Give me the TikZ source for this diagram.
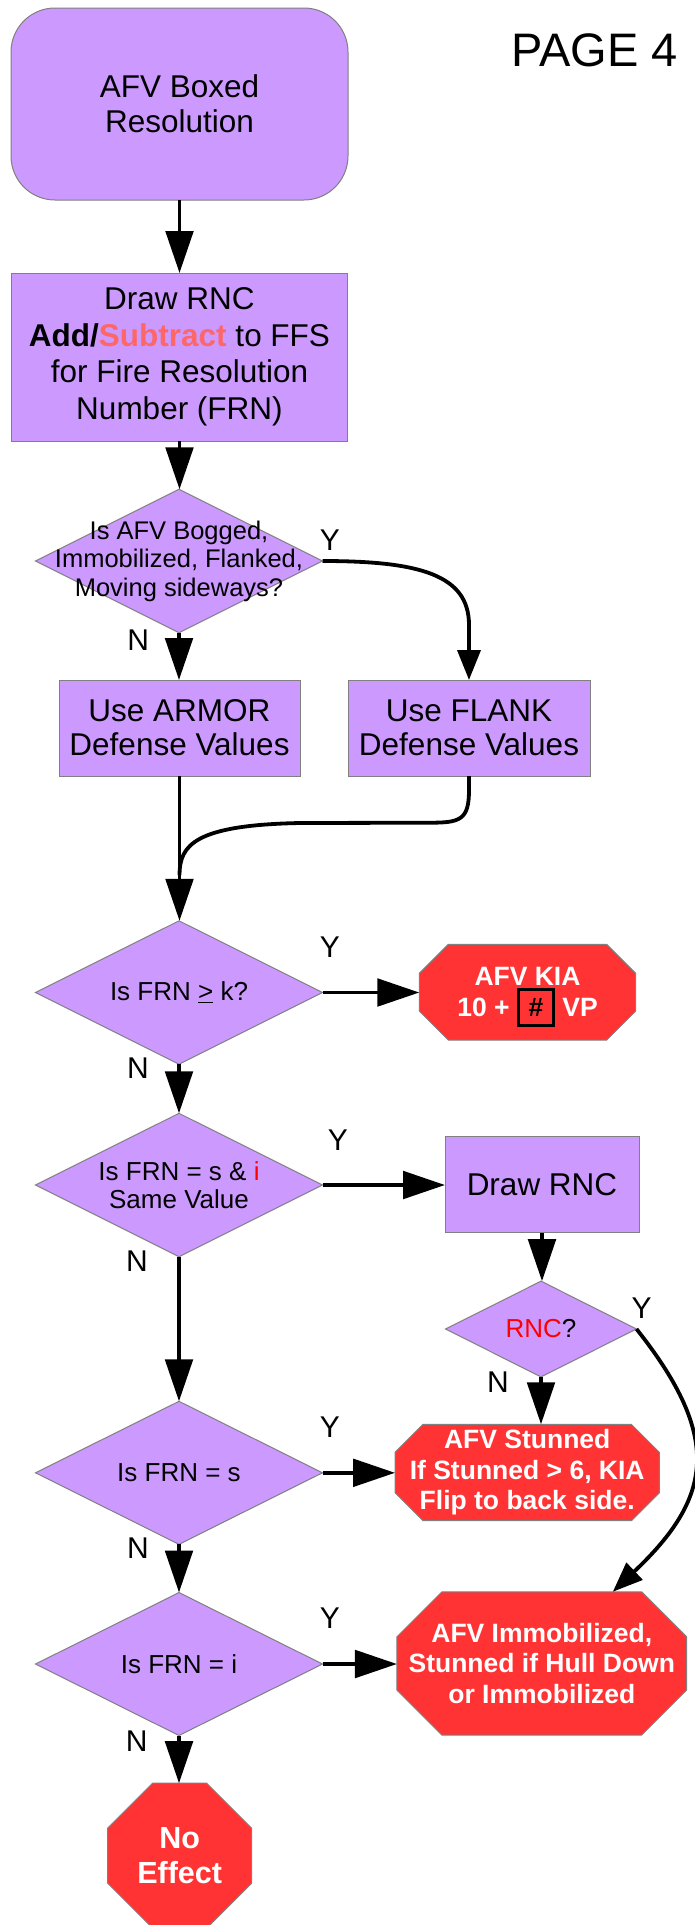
\documentclass[tikz,border=0pt]{standalone}
\usepackage{fontspec}
\setmainfont{Liberation Sans}
\usetikzlibrary{shapes.geometric,arrows.meta,backgrounds}

\definecolor{boxpurple}{RGB}{204,153,255}
\definecolor{stopred}{RGB}{255,51,51}
\definecolor{edgegray}{RGB}{128,128,128}
\definecolor{minusred}{RGB}{255,102,102}
\definecolor{keyred}{RGB}{255,0,0}

\begin{document}
\begin{tikzpicture}[x=1pt,y=-1pt,
  flow/.style={line width=3.8pt,-{Triangle[length=42pt,width=27.5pt]}},
  bendflow/.style={line width=3.8pt,-{Triangle[length=30pt,width=23pt]}},
  plainline/.style={line width=3.8pt},
  procbox/.style={rectangle,draw=edgegray,line width=1pt,fill=boxpurple,
    inner sep=0pt,outer sep=0pt,align=center,font=\fontsize{31.5}{34}\selectfont},
  decide/.style={diamond,draw=edgegray,line width=1pt,fill=boxpurple,
    inner sep=0pt,outer sep=0pt},
  asktext/.style={align=center,inner sep=0pt,font=\fontsize{26}{28.5}\selectfont},
  outcome/.style={rectangle,inner sep=0pt,outer sep=0pt,align=center,text=white,
    font=\bfseries\fontsize{26.5}{30.5}\selectfont},
  yn/.style={inner sep=0pt,font=\fontsize{30}{30}\selectfont}]

\useasboundingbox (0,0) rectangle (694,1925);

% ---- title
\node[inner sep=0pt,font=\fontsize{47}{47}\selectfont] (page) at (594.5,50.8) {PAGE 4};

% ---- left column
\node[procbox,rounded corners=44pt,minimum width=337pt,minimum height=192pt,
      font=\fontsize{31.5}{35}\selectfont] (start) at (179.5,104) {AFV Boxed\\Resolution};

\node[procbox,minimum width=336pt,minimum height=168pt,
      font=\fontsize{31.5}{36.5}\selectfont] (calc) at (179.5,357)
  {Draw RNC\\\textbf{Add/}\textbf{\color{minusred}Subtract} to FFS\\for Fire Resolution\\Number (FRN)};

\node[decide,minimum width=287pt,minimum height=143.4pt] (d1) at (179,561) {};
\node[asktext,font=\fontsize{25.5}{28.5}\selectfont] (d1t) at (d1.center)
  {Is AFV Bogged,\\Immobilized, Flanked,\\Moving sideways?};

\node[procbox,minimum width=241pt,minimum height=96pt] (armor) at (179.5,728)
  {Use ARMOR\\Defense Values};
\node[procbox,minimum width=242pt,minimum height=96pt] (flank) at (469,728)
  {Use FLANK\\Defense Values};

\node[decide,minimum width=287pt,minimum height=143.4pt] (d2) at (179,992.5) {};
\node[asktext] (d2t) at (d2.center) {Is FRN \underline{>} k?};

\node[decide,minimum width=287pt,minimum height=143.4pt] (d3) at (179,1185) {};
\node[asktext] (d3t) at (d3.center) {Is FRN = s \& \textcolor{keyred}{i}\\Same Value};

\node[decide,minimum width=287pt,minimum height=143pt] (d5) at (179,1472.8) {};
\node[asktext] (d5t) at (d5.center) {Is FRN = s};

\node[decide,minimum width=287pt,minimum height=143pt] (d6) at (179,1664) {};
\node[asktext] (d6t) at (d6.center) {Is FRN = i};

% ---- right column
\node[outcome,minimum width=216.4pt,minimum height=95.7pt] (kia) at (527.5,992.2)
  {AFV KIA\\10 + \smash{\color{black}\fboxsep=0pt\fboxrule=3pt\fbox{\makebox[32pt]{\rule[-8pt]{0pt}{33pt}\#}}} VP};

\node[procbox,minimum width=194pt,minimum height=96pt] (rnc) at (542,1184.7) {Draw RNC};

\node[decide,minimum width=191pt,minimum height=95.7pt] (d4) at (541,1329) {};
\node[asktext] (d4t) at (d4.center) {\textcolor{keyred}{RNC}?};

\node[outcome,minimum width=264.3pt,minimum height=96.4pt] (stun) at (527.2,1472.5)
  {AFV Stunned\\If Stunned > 6, KIA\\Flip to back side.};

\node[outcome,minimum width=289.7pt,minimum height=143.3pt] (immob) at (541.8,1663.4)
  {AFV Immobilized,\\Stunned if Hull Down\\or Immobilized};

\node[outcome,minimum width=144pt,minimum height=145pt,
      font=\bfseries\fontsize{30.5}{35}\selectfont] (noeff) at (179.7,1855.7) {No\\Effect};

% ---- octagon outlines behind the outcome texts
\begin{scope}[on background layer]
  \foreach \nm/\cut in {kia/29pt,stun/28pt,immob/45pt,noeff/45pt}{
    \filldraw[fill=stopred,draw=edgegray,line width=1pt]
      ([xshift=\cut]\nm.north west) -- ([xshift=-\cut]\nm.north east)
      -- ([yshift=-\cut]\nm.north east) -- ([yshift=\cut]\nm.south east)
      -- ([xshift=-\cut]\nm.south east) -- ([xshift=\cut]\nm.south west)
      -- ([yshift=\cut]\nm.south west) -- ([yshift=-\cut]\nm.north west) -- cycle;
  }
\end{scope}

% ---- Y / N marks
\node[yn] (y1) at (330,540) {Y};
\node[yn] (n1) at (138.3,640) {N};
\node[yn] (y2) at (330,946.7) {Y};
\node[yn] (n2) at (138,1068.3) {N};
\node[yn] (y3) at (338,1140) {Y};
\node[yn] (n3) at (137,1261) {N};
\node[yn] (y4) at (641.7,1308) {Y};
\node[yn] (n4) at (498,1381.7) {N};
\node[yn] (y5) at (330,1427.3) {Y};
\node[yn] (n5) at (138,1548.3) {N};
\node[yn] (y6) at (330,1618.3) {Y};
\node[yn] (n6) at (136.7,1740.7) {N};

% ---- connectors
\draw[flow] (start.south) -- (start.south |- calc.north);
\draw[flow] (calc.south) -- (calc.south |- d1.north);
\draw[flow] (d1.south) -- (d1.south |- armor.north);
\draw[bendflow] (d1.east) .. controls (420,561) and (469,575) .. (469,625) -- (flank.north);

\coordinate (merge) at (179.5,875);
\draw[plainline] (flank.south) -- (469,790) .. controls (469,820) and (460,822.7) .. (430,822.7)
  -- (300,823) .. controls (195,825) and (179.5,845) .. (merge);
\draw[flow] (armor.south) -- (armor.south |- d2.north);

\draw[flow] (d2.east) -- (d2.east -| kia.west);
\draw[flow] (d2.south) -- (d2.south |- d3.north);
\draw[flow] (d3.east) -- (d3.east -| rnc.west);
\draw[flow] (d3.south) -- (d3.south |- d5.north);
\draw[flow] (rnc.south) -- (rnc.south |- d4.north);
\draw[flow] (d4.south) -- (d4.south |- stun.north);
\draw[bendflow] (d4.east) .. controls (723,1438) and (712,1498) .. ([xshift=71pt]immob.north);
\draw[flow] (d5.east) -- (d5.east -| stun.west);
\draw[flow] (d5.south) -- (d5.south |- d6.north);
\draw[flow] (d6.east) -- (d6.east -| immob.west);
\draw[flow] (d6.south) -- (d6.south |- noeff.north);

\end{tikzpicture}
\end{document}
